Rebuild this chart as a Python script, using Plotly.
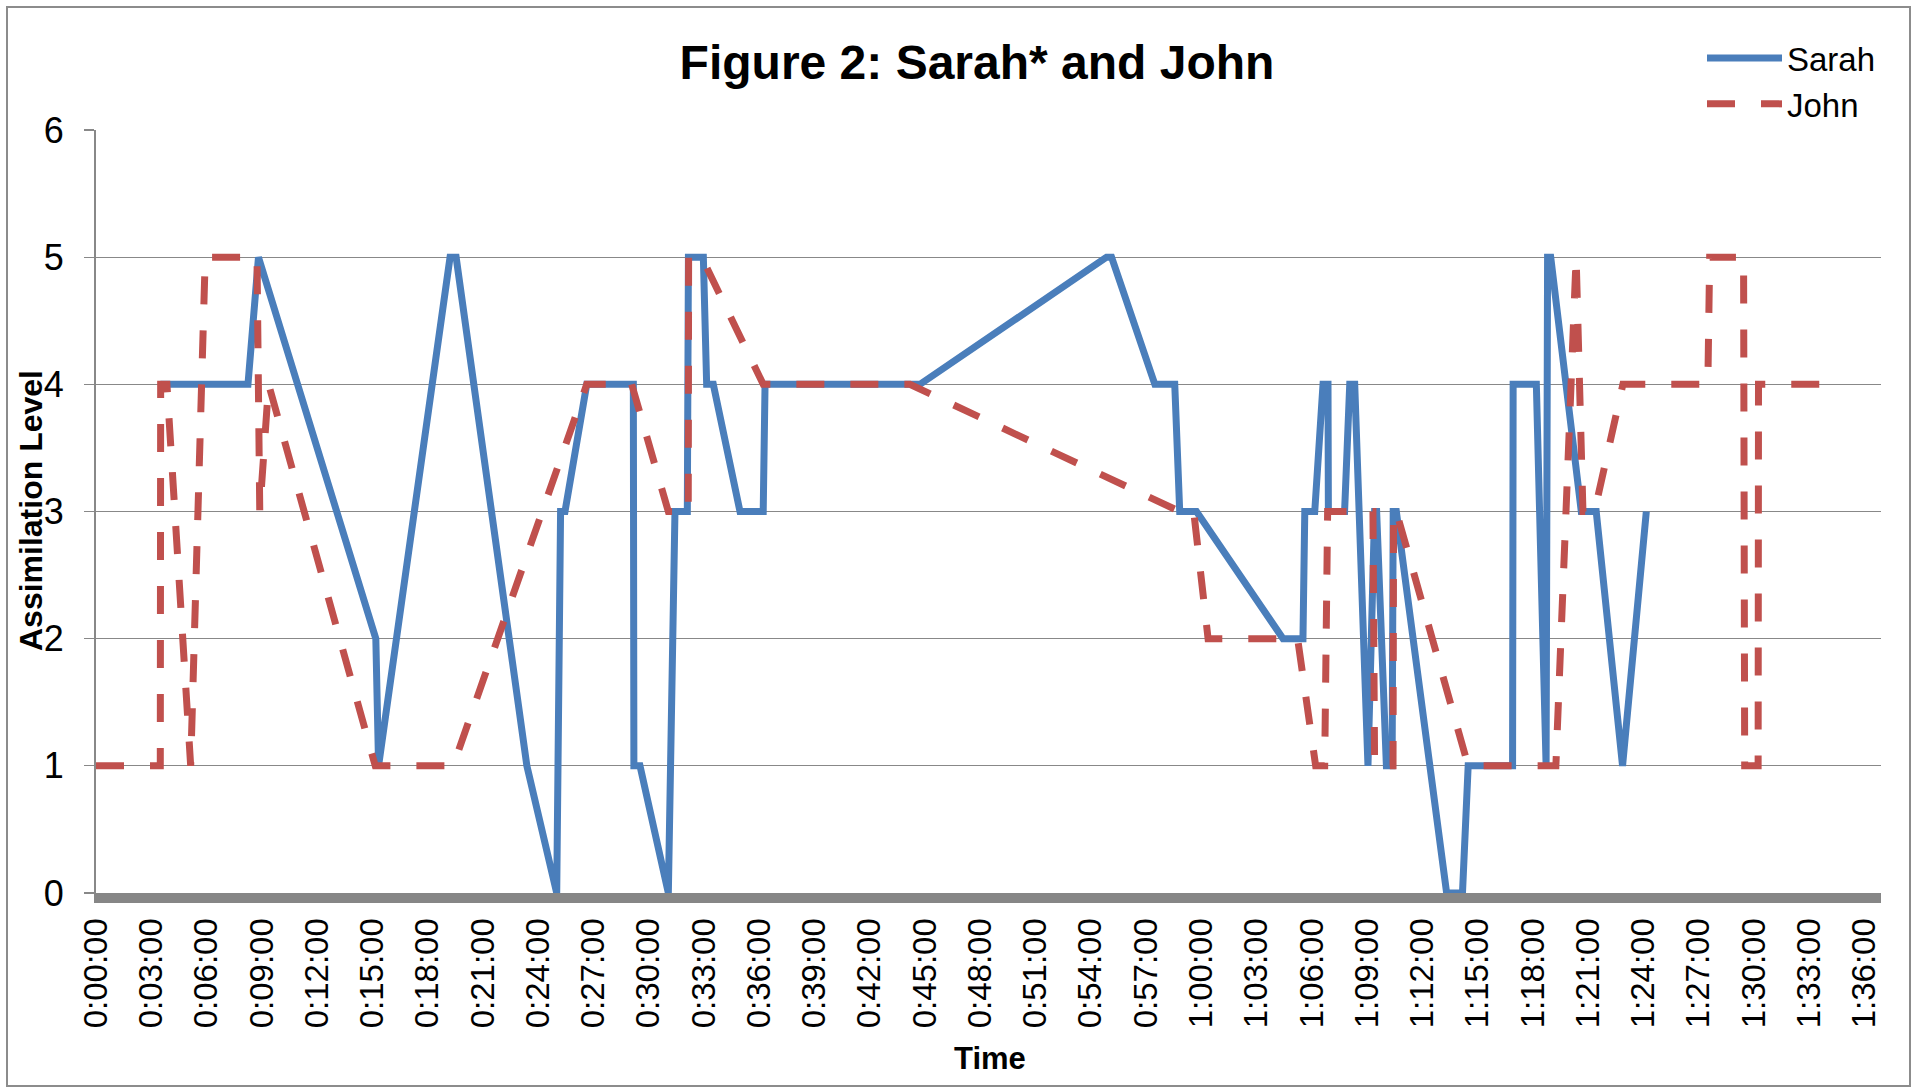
import plotly.graph_objects as go

# ---- data (minutes from start, assimilation level) ----
sarah_minutes = [3.49, 8.25, 8.82, 15.19, 15.34, 19.22, 19.55, 23.39, 25.01, 25.22,
                 25.46, 26.64, 29.17, 29.20, 29.53, 31.07, 31.43, 32.10, 32.16, 32.97,
                 33.15, 33.51, 34.96, 36.22, 36.32, 44.73, 54.86, 55.13, 57.48, 58.56,
                 58.83, 59.74, 64.44, 65.52, 65.62, 66.16, 66.61, 66.88, 66.90, 67.78,
                 68.06, 68.33, 69.05, 69.41, 69.52, 70.05, 70.36, 70.42, 70.59, 73.32,
                 74.18, 74.49, 76.90, 76.93, 78.19, 78.72, 78.80, 78.97, 80.63, 81.44,
                 82.87, 84.16]
sarah_levels = [4, 4, 5, 2, 1, 5, 5, 1, 0, 3,
                3, 4, 4, 1, 1, 0, 3, 3, 5, 5,
                4, 4, 3, 3, 4, 4, 5, 5, 4, 4,
                3, 3, 2, 2, 3, 3, 4, 4, 3, 3,
                4, 4, 1, 3, 3, 1, 1, 3, 3, 0,
                0, 1, 1, 4, 4, 1, 5, 5, 3, 3,
                1, 3]

john_minutes = [0.00, 3.49, 3.51, 3.85, 5.14, 5.93, 8.74, 8.89, 9.37, 15.16,
                19.39, 26.64, 29.08, 31.07, 32.15, 32.17, 32.88, 36.22, 44.18, 58.83,
                59.59, 60.37, 65.23, 66.21, 66.70, 66.86, 69.32, 69.41, 70.41, 70.44,
                70.59, 74.49, 79.25, 80.35, 80.72, 81.35, 82.89, 87.50, 87.60, 89.44,
                89.50, 90.23, 90.25, 93.86]
john_levels = [1, 1, 4, 4, 1, 5, 5, 3, 4, 1,
               1, 4, 4, 3, 3, 5, 5, 4, 4, 3,
               3, 2, 2, 1, 1, 3, 3, 1, 1, 3,
               3, 1, 1, 5, 3, 3, 4, 4, 5, 5,
               1, 1, 4, 4]

tick_minutes = [0, 3, 6, 9, 12, 15, 18, 21, 24, 27, 30, 33, 36, 39, 42, 45, 48,
                51, 54, 57, 60, 63, 66, 69, 72, 75, 78, 81, 84, 87, 90, 93, 96]
tick_labels = ["0:00:00", "0:03:00", "0:06:00", "0:09:00", "0:12:00", "0:15:00",
               "0:18:00", "0:21:00", "0:24:00", "0:27:00", "0:30:00", "0:33:00",
               "0:36:00", "0:39:00", "0:42:00", "0:45:00", "0:48:00", "0:51:00",
               "0:54:00", "0:57:00", "1:00:00", "1:03:00", "1:06:00", "1:09:00",
               "1:12:00", "1:15:00", "1:18:00", "1:21:00", "1:24:00", "1:27:00",
               "1:30:00", "1:33:00", "1:36:00"]
level_ticks = [0, 1, 2, 3, 4, 5, 6]

FONT = "Liberation Sans, Arial, sans-serif"
GRID = "#888888"

W, H = 1915, 1088
ML, MR, MT, MB = 96, 34, 130, 195
PW = W - ML - MR
PH = H - MT - MB


def px_x(p):
    return (p - ML) / PW


def px_y(p):
    return (H - MB - p) / PH


fig = go.Figure()
fig.add_trace(go.Scatter(x=sarah_minutes, y=sarah_levels, mode="lines", name="Sarah",
                         line=dict(color="#4A7EBB", width=7)))
fig.add_trace(go.Scatter(x=john_minutes, y=john_levels, mode="lines", name="John",
                         line=dict(color="#C0504D", width=7, dash="28px,26px")))

fig.update_layout(
    width=W, height=H,
    margin=dict(l=ML, r=MR, t=MT, b=MB, pad=0, autoexpand=False),
    paper_bgcolor="white", plot_bgcolor="white",
    font=dict(family=FONT, color="black"),
    title=dict(text="<b>Figure 2: Sarah* and John</b>", xref="container", yref="container",
               x=977 / W, xanchor="center", y=1 - 62 / H, yanchor="middle",
               font=dict(family=FONT, size=48, color="black")),
    showlegend=True,
    legend=dict(x=px_x(1702), y=px_y(30), xanchor="left", yanchor="top",
                font=dict(family=FONT, size=33, color="black"),
                bgcolor="rgba(0,0,0,0)", borderwidth=0, itemwidth=75,
                tracegroupgap=0),
    xaxis=dict(range=[0, 96.9], tickmode="array", tickvals=tick_minutes, ticktext=tick_labels,
               tickangle=-90, showgrid=False, zeroline=False, showline=True,
               linewidth=10, linecolor="#868686", ticks="", automargin=False,
               tickfont=dict(family=FONT, size=33, color="black"),
               ticklabelstandoff=2, fixedrange=True),
    yaxis=dict(range=[0, 6], tickmode="array", tickvals=level_ticks, showgrid=True,
               gridcolor=GRID, gridwidth=1.3, zeroline=False, showline=True,
               linewidth=2, linecolor=GRID, ticks="outside", ticklen=10,
               tickcolor=GRID, tickwidth=1.3, automargin=False,
               tickfont=dict(family=FONT, size=36, color="black"),
               ticklabelstandoff=13, fixedrange=True),
    annotations=[
        dict(text="<b>Time</b>", xref="paper", yref="paper", x=px_x(990), y=px_y(1058),
             xanchor="center", yanchor="middle", showarrow=False,
             font=dict(family=FONT, size=31, color="black")),
        dict(text="<b>Assimilation Level</b>", xref="paper", yref="paper",
             x=px_x(31), y=px_y(511), xanchor="center", yanchor="middle",
             textangle=-90, showarrow=False,
             font=dict(family=FONT, size=32, color="black")),
    ],
    shapes=[
        dict(type="rect", xref="paper", yref="paper",
             x0=px_x(7), x1=px_x(1910), y0=px_y(1086), y1=px_y(7),
             line=dict(color="#8c8c8c", width=2), fillcolor="rgba(0,0,0,0)",
             layer="below"),
    ],
)

fig.write_html("out.html",
               config={"displayModeBar": False, "staticPlot": True},
               post_script="document.body.style.margin='0px';"
                           "document.body.style.overflow='hidden';")
